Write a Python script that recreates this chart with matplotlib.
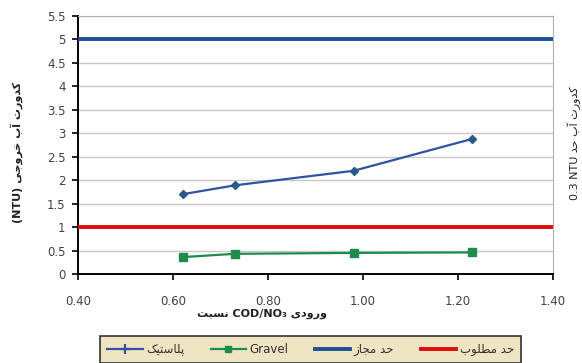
import matplotlib
matplotlib.use("Agg")
import matplotlib.pyplot as plt
from matplotlib.lines import Line2D

# Data: COD/NO3 ratio vs effluent turbidity (NTU)
ratio = [0.62, 0.73, 0.98, 1.23]
plastic = [1.70, 1.89, 2.20, 2.88]
gravel = [0.36, 0.43, 0.45, 0.46]
limit_allowed = 5.0
limit_desired = 1.0

x_ticks = [0.40, 0.60, 0.80, 1.00, 1.20, 1.40]
y_ticks = [0, 0.5, 1, 1.5, 2, 2.5, 3, 3.5, 4, 4.5, 5, 5.5]

# Persian labels in visual (shaped, right-to-left reversed) form
w_kodorat = "\uFE95\uFEAD\uFEED\uFEAA\uFB90"      # کدورت
w_ab = "\uFE8F\uFE81"                              # آب
w_khoroji = "\uFBFD\uFE9F\uFEED\uFEAE\uFEA7"      # خروجی
w_had = "\uFEAA\uFEA3"                              # حد
w_nesbat = "\uFE96\uFE92\uFEB4\uFEE7"              # نسبت
w_vorodi = "\uFBFC\uFEA9\uFEED\uFEAD\uFEED"        # ورودی
w_plastic = "\uFB8F\uFBFF\uFE98\uFEB3\uFE8E\uFEE0\uFB58"  # پلاستیک
w_mojaz = "\uFEAF\uFE8E\uFEA0\uFEE3"               # مجاز
w_matloob = "\uFE8F\uFEEE\uFEE0\uFEC4\uFEE3"       # مطلوب

ylabel = "(NTU) " + w_khoroji + " " + w_ab + " " + w_kodorat
rlabel = "0.3 NTU " + w_had + " " + w_ab + " " + w_kodorat
xlabel = w_nesbat + " COD/NO\u2083 " + w_vorodi
leg_labels = [w_plastic, "Gravel", w_mojaz + " " + w_had, w_matloob + " " + w_had]

plt.rcParams["font.family"] = ["DejaVu Sans"]

fig = plt.figure(figsize=(5.82, 3.63), dpi=100)
ax = fig.add_axes([78 / 582, 1 - 274 / 363, (553 - 78) / 582, (274 - 16) / 363])

c_blue = "#2f53a0"
c_green = "#1e8c4e"
c_lim_blue = "#1f4e96"
c_red = "#e00a0a"

ax.axhline(limit_allowed, color=c_lim_blue, lw=2.8, zorder=3)
ax.axhline(limit_desired, color=c_red, lw=2.8, zorder=3)
ax.plot(ratio, plastic, color=c_blue, lw=1.6, marker="D", ms=4.5,
        mfc="#2a5a8a", mec="#2a5a8a", zorder=4)
ax.plot(ratio, gravel, color=c_green, lw=1.6, marker="s", ms=6,
        mfc=c_green, mec=c_green, zorder=4)

ax.set_xlim(0.40, 1.40)
ax.set_ylim(0, 5.5)
ax.set_xticks(x_ticks)
ax.set_xticklabels([f"{v:.2f}" for v in x_ticks])
ax.set_yticks(y_ticks)
ax.set_yticklabels([f"{v:g}" for v in y_ticks])
ax.grid(axis="y", color="#c8c8c8", lw=1.0, zorder=0)
ax.set_axisbelow(True)

for s in ("left", "bottom"):
    ax.spines[s].set_color("black")
    ax.spines[s].set_linewidth(1.4)
for s in ("top", "right"):
    ax.spines[s].set_color("#b0b0b0")
    ax.spines[s].set_linewidth(0.8)

ax.tick_params(axis="y", direction="out", length=4, width=1.2, pad=5,
               labelsize=8.5, labelcolor="#404040")
ax.tick_params(axis="x", direction="out", length=4, width=1.2, pad=11,
               labelsize=8.5, labelcolor="#404040")

fig.text(17 / 582, 1 - 152 / 363, ylabel, rotation=90, ha="center", va="center",
         fontsize=8, fontweight="bold", color="#202020")
fig.text(574 / 582, 1 - 143 / 363, rlabel, rotation=90, ha="center", va="center",
         fontsize=8, color="#202020")
fig.text(262 / 582, 1 - 314 / 363, xlabel, ha="center", va="center",
         fontsize=8, fontweight="bold", color="#202020")

handles = [
    Line2D([], [], color=c_blue, lw=1.6, marker="+", ms=7, mew=1.6),
    Line2D([], [], color=c_green, lw=1.6, marker="s", ms=5),
    Line2D([], [], color=c_lim_blue, lw=2.8),
    Line2D([], [], color=c_red, lw=2.8),
]
leg = fig.legend(handles, leg_labels, loc="upper left", ncol=4,
                 bbox_to_anchor=(100 / 582, 1 - 336 / 363, 421 / 582, 0.0),
                 mode="expand", fontsize=8.5, frameon=True, fancybox=False,
                 handlelength=3.0, handletextpad=0.3, borderpad=0.6,
                 borderaxespad=0.0, columnspacing=1.0)
frame = leg.get_frame()
frame.set_facecolor("#efe4c2")
frame.set_edgecolor("#333333")
frame.set_linewidth(1.2)
frame.set_alpha(1.0)
for t in leg.get_texts():
    t.set_color("#303030")

fig.savefig("out.png", dpi=100)
